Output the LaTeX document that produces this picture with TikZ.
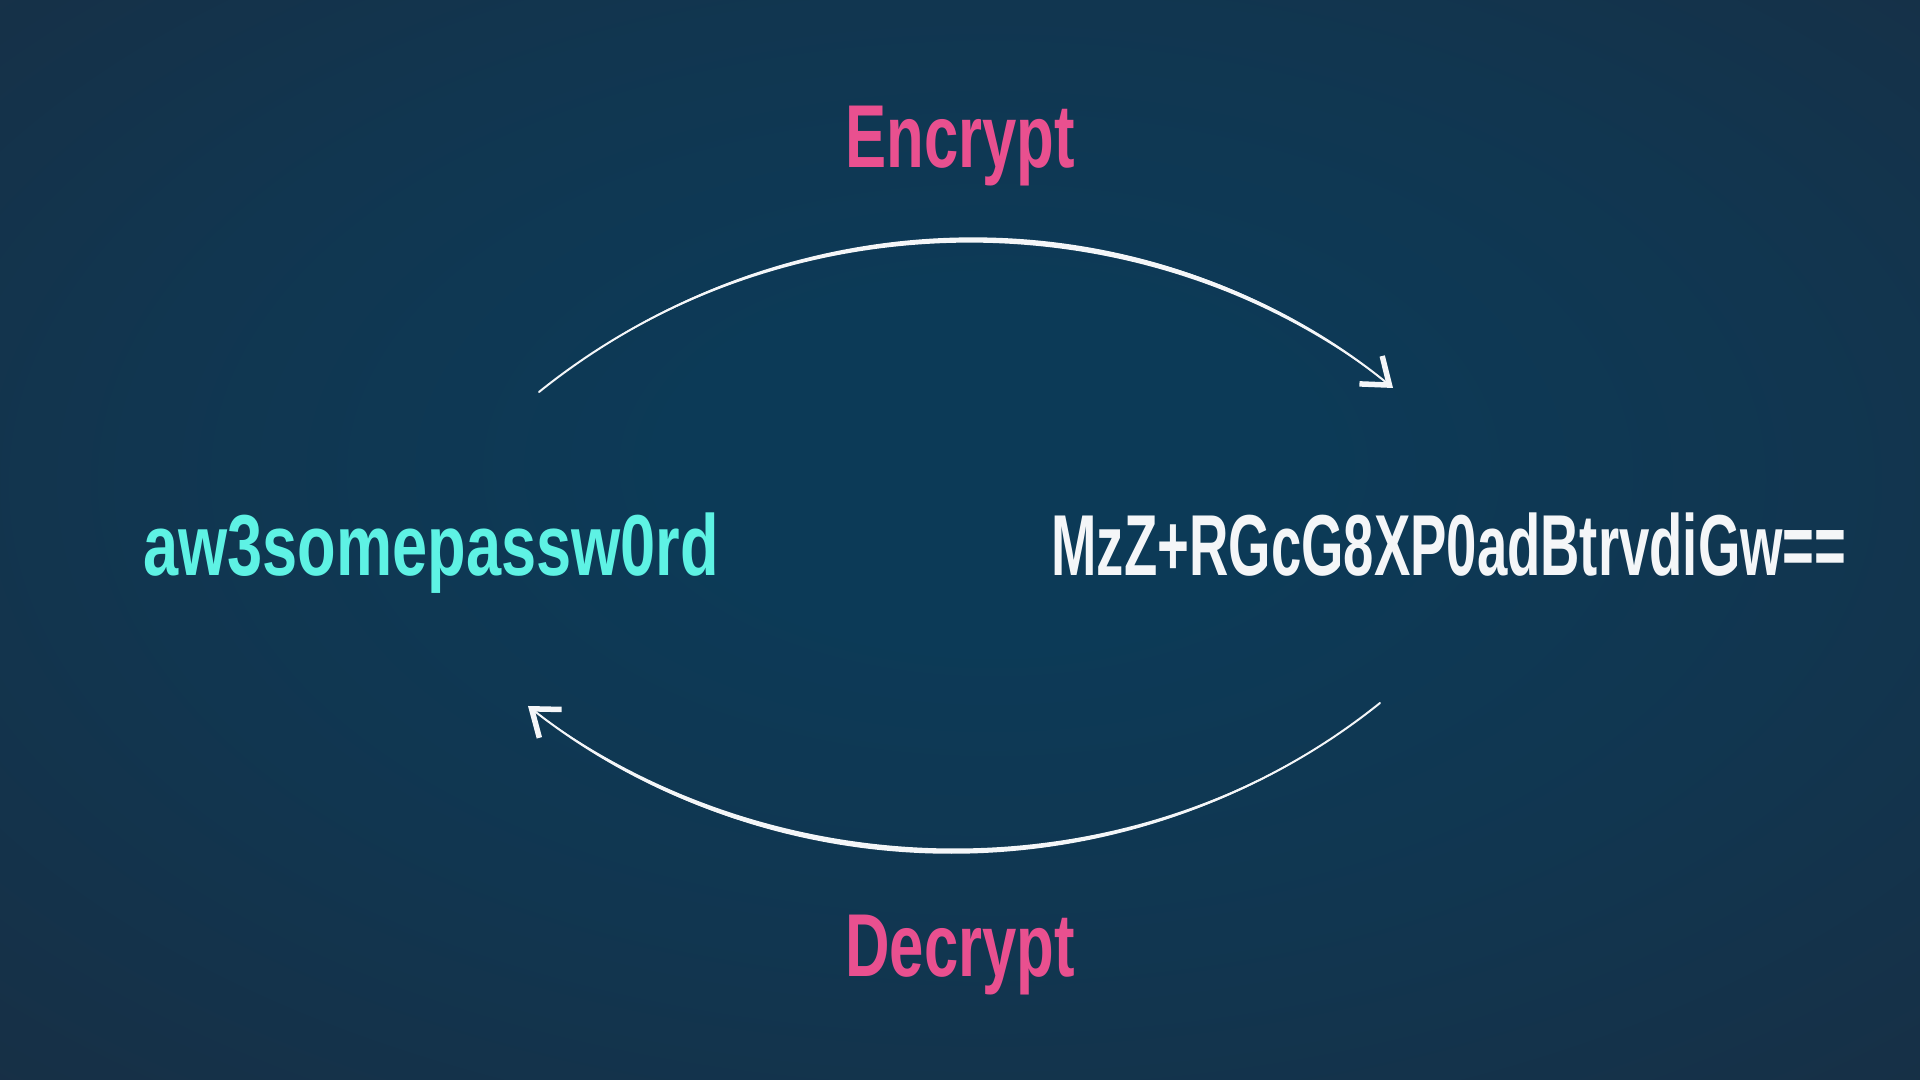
\documentclass[tikz,border=0pt]{standalone}
\usepackage{fontspec}
\setmainfont{Liberation Sans}
\newfontfamily\plainfont{Liberation Sans}[FakeStretch=0.73]
\newfontfamily\cipherfont{Liberation Sans}[FakeStretch=0.63]
\newfontfamily\stepfont{Liberation Sans}[FakeStretch=0.69]
\usetikzlibrary{positioning,arrows.meta}

\definecolor{bgcore}{HTML}{0C3A57}
\definecolor{bgmid}{HTML}{113650}
\definecolor{bgouter}{HTML}{172F45}
\definecolor{bgedge}{HTML}{1A2C3C}
\definecolor{bgcorner}{HTML}{1C2732}
\definecolor{keypink}{HTML}{E9508F}
\definecolor{plaincyan}{HTML}{5EF2E4}
\definecolor{ciphwhite}{HTML}{F4F6F8}

\pgfdeclareradialshading{bgglow}{\pgfpoint{1bp}{4bp}}{color(0bp)=(bgcore); color(8bp)=(bgcore); color(22bp)=(bgmid); color(38bp)=(bgouter); color(50bp)=(bgedge); color(72bp)=(bgcorner)}

\begin{document}
\begin{tikzpicture}[
  x=0.01cm, y=-0.01cm,
  word/.style={anchor=base, inner sep=0pt, font=\bfseries\fontsize{24.6pt}{28pt}\selectfont},
  stepword/.style={anchor=base, inner sep=0pt, text=keypink, font=\stepfont\bfseries\fontsize{25.4pt}{30pt}\selectfont},
  arc/.style={ciphwhite, line width=0.2mm, line cap=round, -{Straight Barb[length=2.4mm,width=3.6mm,line width=0.55mm]}},
  swell/.style={fill=ciphwhite}
]
\useasboundingbox (0,0) rectangle (1920,1080);
\shade[shading=bgglow] (0,0) rectangle (1920,1080);

\node[word, text=plaincyan, font=\plainfont\bfseries\fontsize{24.6pt}{28pt}\selectfont] (plain) at (431,576) {aw3somepassw0rd};
\node[word, text=ciphwhite, font=\cipherfont\bfseries\fontsize{24.6pt}{28pt}\selectfont] (cipher) at (1449,576) {MzZ+RGcG8XP0adBtrvdiGw==};
\node[stepword] (encrypt) at (960,168) {Encrypt};
\node[stepword] (decrypt) at (960,977) {Decrypt};

\coordinate (enctail) at (539,392);
\coordinate (enchead) at (1393,388);
\coordinate (dectail) at (1380,703);
\coordinate (dechead) at (528,706);

\fill[swell] (enctail) .. controls (790,188) and (1150,185) .. (enchead)
  .. controls (1150,195) and (790,192) .. (enctail);
\draw[arc] (enctail) .. controls (790,190) and (1150,190) .. (enchead);
\fill[swell] (dectail) .. controls (1135,902) and (775,905) .. (dechead)
  .. controls (775,895) and (1135,898) .. (dectail);
\draw[arc] (dectail) .. controls (1135,900) and (775,900) .. (dechead);
\end{tikzpicture}
\end{document}
